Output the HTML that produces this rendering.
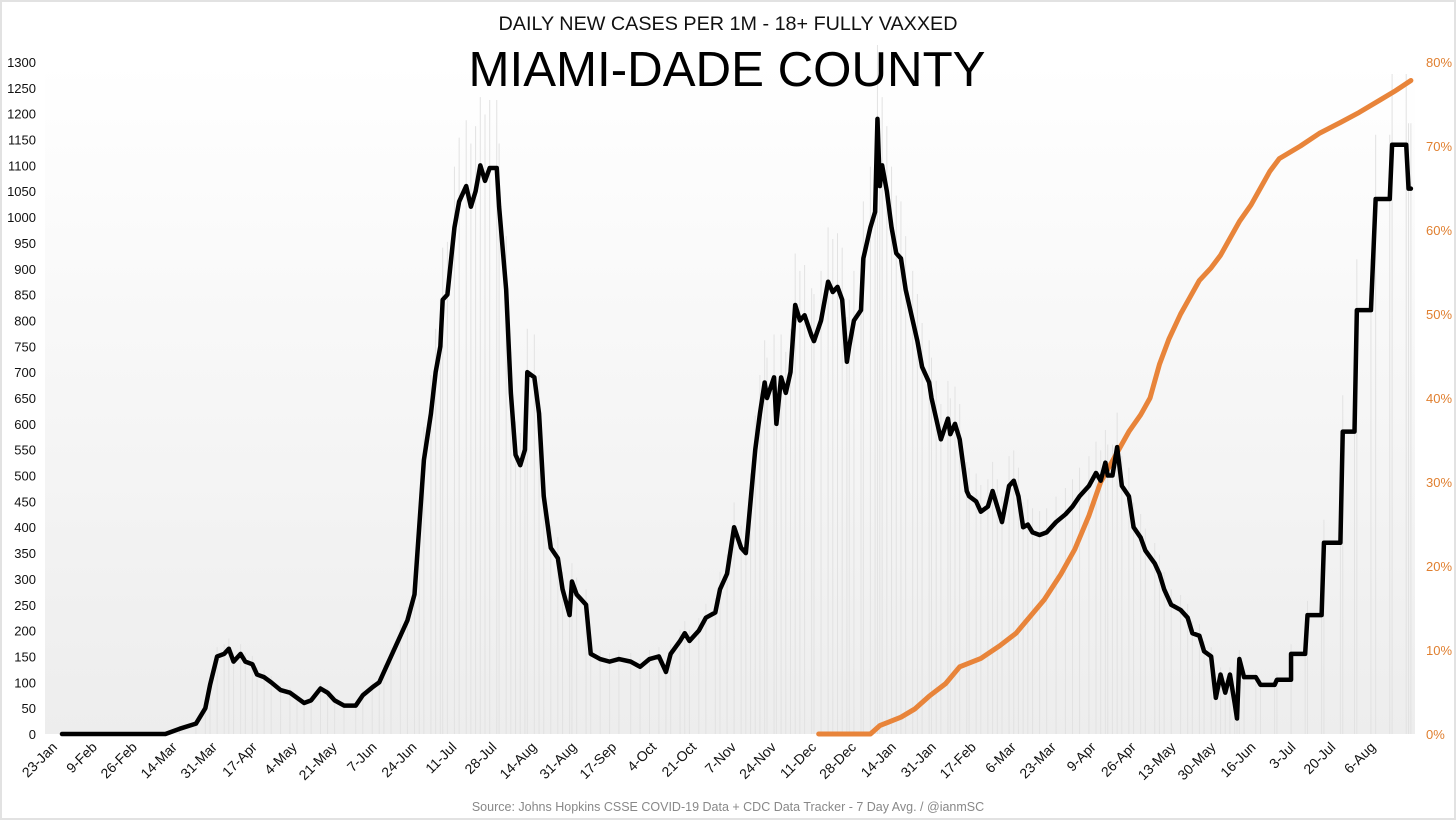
<!DOCTYPE html>
<html><head><meta charset="utf-8"><style>
html,body{margin:0;padding:0;background:#fff;}
svg{display:block;font-family:"Liberation Sans",sans-serif;}
</style></head><body>
<svg id="chart" width="1456" height="821" viewBox="0 0 1456 821">
<defs><linearGradient id="bg" x1="0" y1="0" x2="0" y2="1"><stop offset="0" stop-color="#ffffff"/><stop offset="1" stop-color="#ededed"/></linearGradient></defs>
<rect x="1" y="1" width="1454" height="818" fill="#fff" stroke="#e2e2e2" stroke-width="2"/>
<rect x="45" y="62" width="1370" height="672" fill="url(#bg)"/>
<g id="bars"></g>
<g id="yleft"></g>
<g id="yright"></g>
<g id="xaxis"></g>
<g id="lines"></g>
<text x="728" y="30" text-anchor="middle" font-size="19" textLength="459" lengthAdjust="spacingAndGlyphs" fill="#111">DAILY NEW CASES PER 1M - 18+ FULLY VAXXED</text>
<text x="727" y="86" text-anchor="middle" font-size="49" textLength="517" lengthAdjust="spacingAndGlyphs" fill="#000">MIAMI-DADE COUNTY</text>
<text x="728" y="811" text-anchor="middle" font-size="12.5" fill="#888">Source: Johns Hopkins CSSE COVID-19 Data + CDC Data Tracker  - 7 Day Avg. / @ianmSC</text>
</svg>
<script>
const xLabels=["23-Jan","9-Feb","26-Feb","14-Mar","31-Mar","17-Apr","4-May","21-May","7-Jun","24-Jun","11-Jul","28-Jul","14-Aug","31-Aug","17-Sep","4-Oct","21-Oct","7-Nov","24-Nov","11-Dec","28-Dec","14-Jan","31-Jan","17-Feb","6-Mar","23-Mar","9-Apr","26-Apr","13-May","30-May","16-Jun","3-Jul","20-Jul","6-Aug"];
const leftTicks=[0,50,100,150,200,250,300,350,400,450,500,550,600,650,700,750,800,850,900,950,1000,1050,1100,1150,1200,1250,1300];
const rightTicks=[0,10,20,30,40,50,60,70,80];
const caseDays=[0,44,50,57,61,63,66,69,71,73,76,78,81,83,86,89,93,97,100,103,106,110,113,116,120,125,128,132,135,137,140,144,147,150,152,154,157,159,161,162,164,167,169,172,174,176,178,180,182,185,186,189,191,193,195,197,198,201,203,205,208,211,213,216,217,219,223,225,229,233,237,242,246,250,254,257,259,263,265,267,271,274,278,280,283,286,289,291,293,295,297,299,300,303,304,306,308,310,312,314,316,319,320,323,326,328,330,332,334,335,337,340,341,344,346,347,348,349,351,353,355,357,359,362,364,366,369,370,372,374,377,378,380,382,385,386,389,391,394,396,398,400,403,405,407,409,411,413,416,419,423,427,430,433,437,440,442,444,445,447,449,451,454,456,459,461,465,467,469,472,476,479,481,484,486,489,491,493,495,497,499,500,501,503,508,510,516,517,523,523,529,530,536,537,544,545,550,551,557,559,565,566,572,573,574];
const caseVals=[0,0,10,20,50,95,150,155,165,140,155,140,135,115,110,100,85,80,70,60,65,88,80,65,55,55,75,90,100,120,150,190,220,270,400,530,620,700,750,840,850,980,1030,1060,1020,1050,1100,1070,1095,1095,1020,860,660,540,520,550,700,690,620,460,360,340,280,230,295,270,250,155,145,140,145,140,130,145,150,120,155,180,195,180,200,225,235,280,310,400,360,350,450,550,620,680,650,690,600,690,660,700,830,800,810,770,760,800,875,855,865,840,720,750,800,820,920,980,1010,1190,1060,1100,1050,980,930,920,860,800,760,710,680,650,610,570,610,580,600,570,470,460,450,430,440,470,440,410,480,490,460,400,405,390,385,390,410,425,440,460,480,505,490,525,500,500,555,480,460,400,380,355,330,310,280,250,240,225,195,190,160,150,70,115,80,115,60,30,145,110,110,95,95,105,105,155,155,230,230,370,370,585,585,820,820,1035,1035,1140,1140,1055,1055];
const vaxDays=[322,344,348,357,363,369,376,382,391,399,406,412,418,425,431,437,442,446,450,454,459,463,467,471,476,480,484,489,493,497,501,506,510,514,518,527,535,544,552,561,567,574];
const vaxVals=[0,0,1,2,3,4.5,6,8,9,10.5,12,14,16,19,22,26,30,32,34,36,38,40,44,47,50,52,54,55.5,57,59,61,63,65,67,68.5,70,71.5,72.8,74,75.5,76.5,77.8];

const NS="http://www.w3.org/2000/svg";
const X0=62,PPD=2.35,Y0=734,YT=62;
const xs=d=>X0+d*PPD;
const yl=v=>Y0-(v/1300)*(Y0-YT);
const yr=p=>Y0-(p/80)*(Y0-YT);
function mk(t,a,p){const e=document.createElementNS(NS,t);for(const k in a)e.setAttribute(k,a[k]);p.appendChild(e);return e;}

const bars=document.getElementById('bars');
caseDays.forEach((d,i)=>{const b=mk('line',{x1:xs(d),x2:xs(d),y1:Y0,y2:yl(caseVals[i]*1.12),stroke:'#e2e2e2','stroke-width':1},bars);

});

const gl=document.getElementById('yleft');
leftTicks.forEach(v=>{const t=mk('text',{x:36,y:yl(v)+5,'text-anchor':'end','font-size':13,fill:'#111'},gl);t.textContent=v;

});
const gr=document.getElementById('yright');
rightTicks.forEach(v=>{const t=mk('text',{x:1426,y:yr(v)+5,'font-size':13,fill:'#e07f2f'},gr);t.textContent=v+'%';

});
const gx=document.getElementById('xaxis');
xLabels.forEach((s,i)=>{const x=xs(i*17)-4,y=748;const t=mk('text',{x:x,y:y,'text-anchor':'end','font-size':14,fill:'#111',transform:`rotate(-45 ${x} ${y})`},gx);t.textContent=s;

});

const gL=document.getElementById('lines');
const vp=mk('polyline',{points:vaxDays.map((d,i)=>xs(d)+','+yr(vaxVals[i])).join(' '),fill:'none',stroke:'#e8843a','stroke-width':5,'stroke-linejoin':'round','stroke-linecap':'round'},gL);


const cp=mk('polyline',{points:caseDays.map((d,i)=>xs(d)+','+yl(caseVals[i])).join(' '),fill:'none',stroke:'#000','stroke-width':4.5,'stroke-linejoin':'round','stroke-linecap':'round'},gL);


</script>
</body></html>
